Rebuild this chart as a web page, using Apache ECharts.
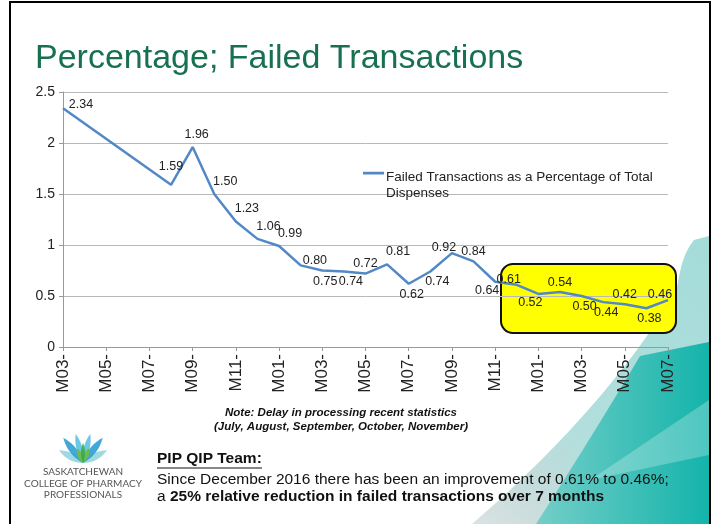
<!DOCTYPE html>
<html>
<head>
<meta charset="utf-8">
<script src="https://cdn.jsdelivr.net/npm/echarts@6/dist/echarts.min.js"></script>
<style>
  html, body { margin: 0; padding: 0; background: #fff; }
  #main { width: 714px; height: 524px; }
</style>
</head>
<body>
<div id="main"></div>
<script>
var months = ['M03-','M04-','M05-','M06-','M07-','M08-','M09-','M10-','M11-','M12-',
              'M01-','M02-','M03-','M04-','M05-','M06-','M07-','M08-','M09-','M10-','M11-','M12-',
              'M01-','M02-','M03-','M04-','M05-','M06-','M07-'];
// % failed transactions (months 2-5 not reported; line joins across them)
var failedPct = [2.34, null, null, null, null, 1.59, 1.96, 1.50, 1.23, 1.06,
                 0.99, 0.80, 0.75, 0.74, 0.72, 0.81, 0.62, 0.74, 0.92, 0.84, 0.64, 0.61,
                 0.52, 0.54, 0.50, 0.44, 0.42, 0.38, 0.46];
var yTicks = [0, 0.5, 1, 1.5, 2, 2.5];
var seriesName = 'Failed Transactions as a Percentage of Total Dispenses';

// where each value label sits relative to its point
var labelSide = ['first','','','','','tt','t2','tr','tr','tr',
                 'tr','r','b','br','t','tr','b','br','tl','t','bl','tl',
                 'bl','t','b','b','t','b','tl'];
var labelStyles = {
    first: { position: 'top', distance: 1, offset: [18, 4] },
    tt: { position: 'top', distance: 12 },
    t2: { position: 'top', distance: 6, offset: [4, 0] },
    t:  { position: 'top', distance: 3 },
    tr: { position: 'top', distance: 3, offset: [11, -3] },
    tl: { position: 'top', distance: 1, offset: [-8, 2] },
    b:  { position: 'bottom', distance: 4, offset: [3, 0] },
    br: { position: 'bottom', distance: 3, offset: [7, 0] },
    bl: { position: 'bottom', distance: 2, offset: [-8, 0] },
    r:  { position: 'right', distance: 2, offset: [0, -5] }
};

var lineColor = '#5288c6';

// quadratic bezier sampled into polygon points
function quad(p0, c, p1, n) {
    var pts = [];
    for (var k = 0; k <= n; k++) {
        var t = k / n, u = 1 - t;
        pts.push([u * u * p0[0] + 2 * u * t * c[0] + t * t * p1[0],
                  u * u * p0[1] + 2 * u * t * c[1] + t * t * p1[1]]);
    }
    return pts;
}
// logo petals
function petal(bx, by, deg, len, w) {
    var a = deg * Math.PI / 180;
    var tip = [bx + len * Math.sin(a), by - len * Math.cos(a)];
    var mx = (bx + tip[0]) / 2, my = (by + tip[1]) / 2;
    var px = Math.cos(a) * w, py = Math.sin(a) * w;
    return quad([bx, by], [mx + px, my + py], tip, 10)
        .concat(quad(tip, [mx - px, my - py], [bx, by], 10));
}
var logoPetals = [
    [-62, 27, 7, '#93d5dd'], [62, 27, 7, '#93d5dd'],
    [-38, 32, 7, '#2c9fd4'], [38, 32, 7, '#2c9fd4'],
    [-14, 30, 6, '#5cc3e2'], [14, 30, 6, '#5cc3e2'],
    [-22, 16, 5, '#6dbb45'], [22, 16, 5, '#6dbb45'], [0, 20, 4, '#3da94a']
];
var logoEls = logoPetals.map(function (p) {
    return { type: 'polygon', z: 5, shape: { points: petal(83, 463, p[0], p[1], p[2]) },
             style: { fill: p[3], opacity: 0.9 } };
});

var swooshLight = [[709, 236]].concat(quad([694, 240], [684, 252], [680, 272], 8))
    .concat(quad([676, 292], [604, 410], [472, 524], 20)).concat([[709, 524]]);
var swooshDark = [[709, 342], [640, 356]].concat(quad([640, 356], [596, 430], [536, 524], 12))
    .concat([[709, 524]]);

var myChart = echarts.init(document.getElementById('main'));
var option = {
    backgroundColor: '#fff',
    animation: false,
    grid: { left: 63, right: 46, top: 92, bottom: 177 },
    legend: {
        left: 358,
        top: 164,
        data: [seriesName],
        itemWidth: 21,
        itemHeight: 32,
        itemGap: 0,
        icon: 'path://M0,7 H20 V9.5 H0 Z M0,32 H0.05 V32.05 H0 Z',
        formatter: function () { return 'Failed Transactions as a Percentage of Total\nDispenses'; },
        textStyle: { fontFamily: 'Liberation Sans', fontSize: 13.5, lineHeight: 16, color: '#222',
                     padding: [0, 0, 0, -3] }
    },
    xAxis: {
        type: 'category',
        boundaryGap: false,
        data: months,
        axisLine: { lineStyle: { color: '#999', width: 1 } },
        axisTick: { show: true, interval: 1, length: 4, lineStyle: { color: '#999' } },
        axisLabel: {
            interval: 1, rotate: 90, margin: 7,
            fontFamily: 'Liberation Sans', fontSize: 17, color: '#222'
        }
    },
    yAxis: {
        type: 'value',
        min: yTicks[0],
        max: yTicks[yTicks.length - 1],
        interval: 0.5,
        axisLine: { show: true, lineStyle: { color: '#999', width: 1 } },
        axisTick: { show: true, length: 4, lineStyle: { color: '#999' } },
        splitLine: { lineStyle: { color: '#b8b8b8', width: 1 } },
        axisLabel: { fontFamily: 'Liberation Sans', fontSize: 14, color: '#222', margin: 8 }
    },
    series: [{
        name: seriesName,
        type: 'line',
        connectNulls: true,
        symbol: 'circle',
        symbolSize: 0.1,
        itemStyle: { color: lineColor },
        lineStyle: { color: lineColor, width: 2.5 },
        label: {
            show: true,
            fontFamily: 'Liberation Sans', fontSize: 12.5, color: '#222',
            formatter: function (p) { return p.value.toFixed(2); }
        },
        data: failedPct.map(function (v, i) {
            if (v === null) return null;
            return { value: v, label: labelStyles[labelSide[i]] };
        }),
        z: 5
    }],
    graphic: [
        // slide frame
        { type: 'rect', z: -20, shape: { x: 10, y: 2, width: 700, height: 530 },
          style: { fill: '#fff', stroke: '#000', lineWidth: 2 } },
        // teal swooshes
        { type: 'polygon', z: -15, shape: { points: swooshLight },
          style: { fill: new echarts.graphic.LinearGradient(0, 1, 1, 0, [
              { offset: 0, color: 'rgba(150,175,175,0.35)' },
              { offset: 0.35, color: 'rgba(160,215,212,0.8)' },
              { offset: 1, color: '#a4dcda' }]) } },
        { type: 'polygon', z: -14, shape: { points: swooshDark },
          style: { fill: new echarts.graphic.LinearGradient(0, 0, 1, 0, [
              { offset: 0, color: '#74cec8' },
              { offset: 1, color: '#14b4ab' }]) } },
        { type: 'polygon', z: -13, shape: { points: [[709, 400], [590, 480], [709, 455]] },
          style: { fill: 'rgba(255,255,255,0.25)' } },
        // yellow highlight
        { type: 'rect', z: -5, shape: { x: 501, y: 264, width: 175, height: 69, r: 12 },
          style: { fill: '#ffff00', stroke: '#111', lineWidth: 2 } },
        // title
        { type: 'text', z: 10, left: 35, top: 42,
          style: { text: 'Percentage; Failed Transactions', fontFamily: 'Liberation Sans',
                   fontSize: 34, fill: '#17704f' } },
        // note
        { type: 'text', z: 10, x: 341, y: 406,
          style: { text: 'Note: Delay in processing recent statistics\n(July, August, September, October, November)',
                   fontFamily: 'Liberation Sans', fontSize: 11.5, fontWeight: 'bold', fontStyle: 'italic',
                   lineHeight: 14, align: 'center', fill: '#111' } },
        // team text
        { type: 'text', z: 10, x: 157, y: 451,
          style: { text: 'PIP QIP Team:', fontFamily: 'Liberation Sans', fontSize: 15.5,
                   fontWeight: 'bold', fill: '#111' } },
        { type: 'line', z: 10, shape: { x1: 157, y1: 468, x2: 262, y2: 468 },
          style: { stroke: '#111', lineWidth: 1.2 } },
        { type: 'text', z: 10, x: 157, y: 472,
          style: { text: 'Since December 2016 there has been an improvement of 0.61% to 0.46%;',
                   fontFamily: 'Liberation Sans', fontSize: 15.5, fill: '#111' } },
        { type: 'text', z: 10, x: 157, y: 489,
          style: { text: '{n|a }{b|25% relative reduction in failed transactions over 7 months}',
                   rich: {
                       n: { fontFamily: 'Liberation Sans', fontSize: 15.5, fill: '#111' },
                       b: { fontFamily: 'Liberation Sans', fontSize: 15.5, fontWeight: 'bold', fill: '#111' }
                   } } },
        // logo words
        { type: 'text', z: 10, x: 83, y: 466,
          style: { text: 'SASKATCHEWAN\nCOLLEGE OF PHARMACY\nPROFESSIONALS', fontFamily: 'Lato',
                   fontSize: 10, lineHeight: 11.7, align: 'center', fill: '#555' } }
    ].concat(logoEls)
};
myChart.setOption(option);
</script>
</body>
</html>
